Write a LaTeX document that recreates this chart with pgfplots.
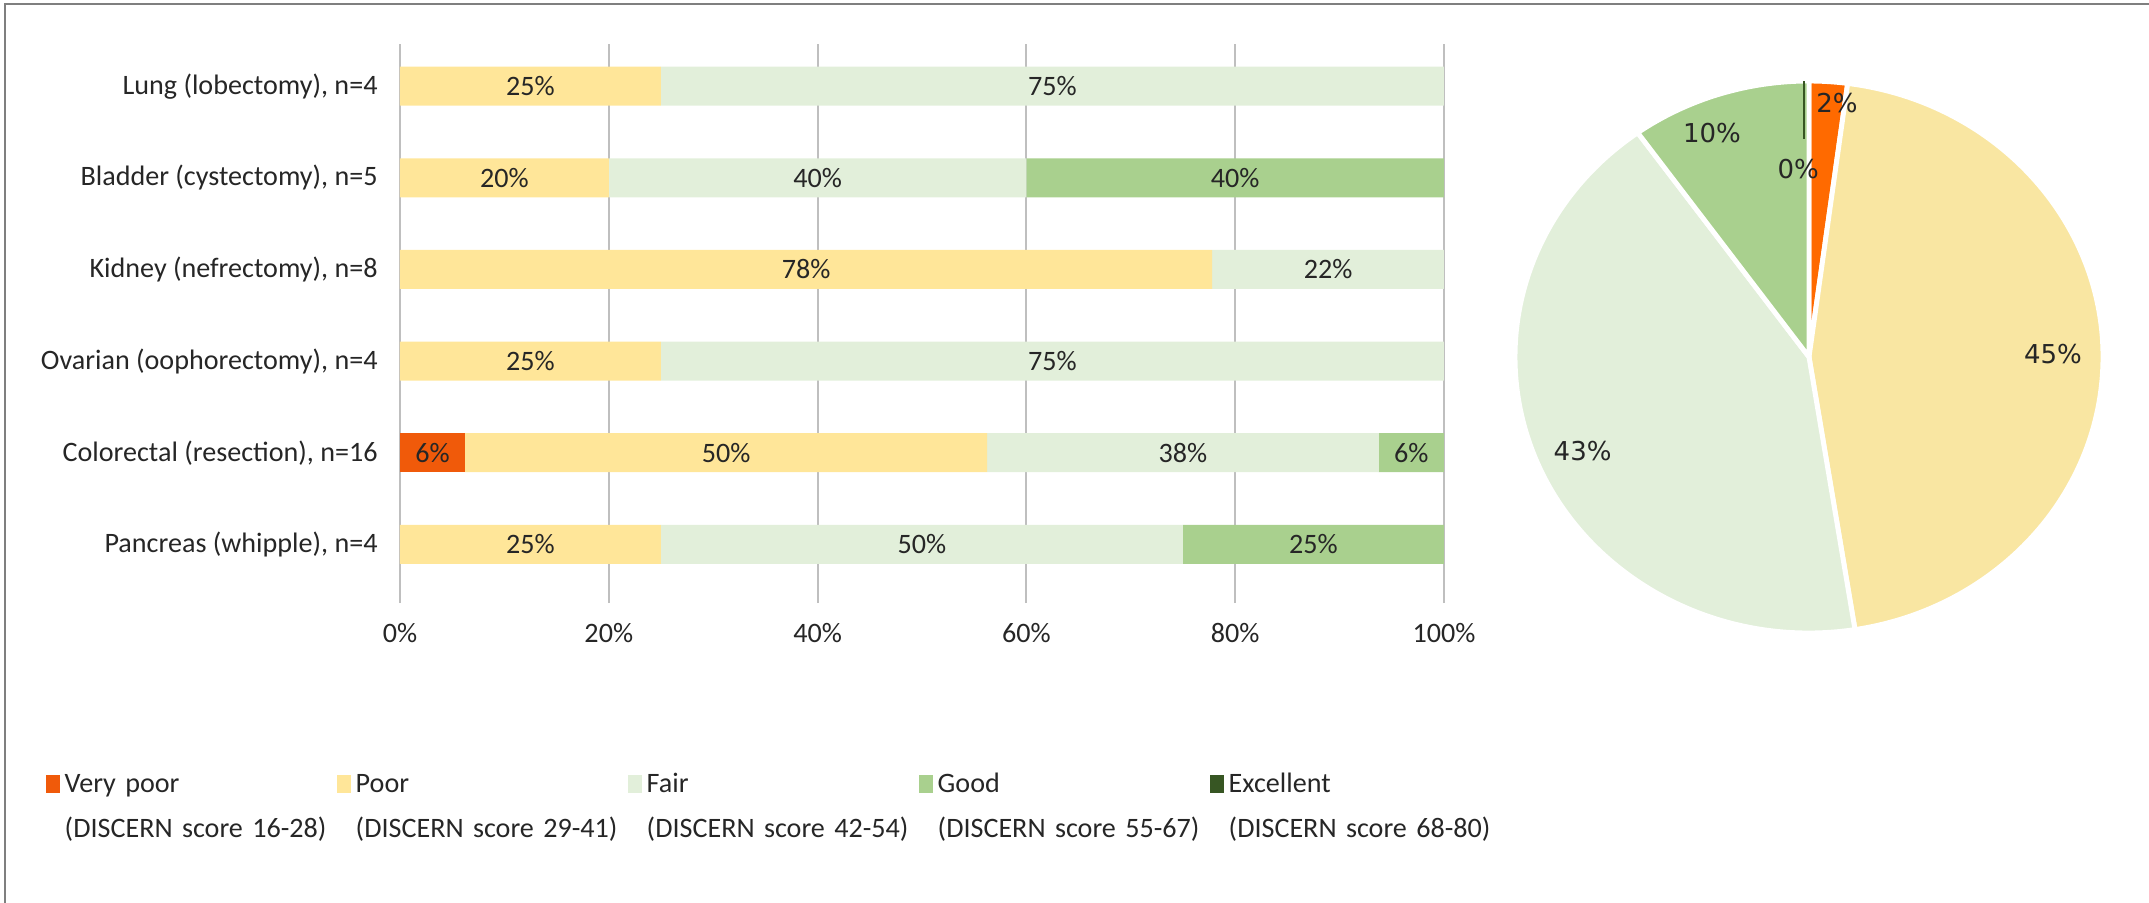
\documentclass[border=0pt]{standalone}
\usepackage{fontspec}
\setmainfont{Carlito}
\newfontfamily\piefont{DejaVu Sans}
\usepackage{pgfplots}
\pgfplotsset{compat=1.18}
\usepackage{pgfplotstable}

\definecolor{colVP}{HTML}{F05A0A}
\definecolor{colVPpie}{HTML}{FF6A00}
\definecolor{colP}{HTML}{FFE699}
\definecolor{colPpie}{HTML}{F9E6A2}
\definecolor{colF}{HTML}{E2EFDA}
\definecolor{colG}{HTML}{A9D08E}
\definecolor{colE}{HTML}{375623}
\definecolor{gridc}{HTML}{BFBFBF}
\definecolor{txt}{HTML}{262626}
\definecolor{framec}{HTML}{7F7F7F}

% share of each rating per procedure (%)
\pgfplotstableread{
pos VP P F G
0 0 25 50 25
1 6.25 50 37.5 6.25
2 0 25 75 0
3 0 77.8 22.2 0
4 0 20 40 40
5 0 25 75 0
}\bardata

% pie shares (%), clockwise from 12 o'clock: very poor, poor, fair, good, excellent
\def\pieVP{2.1}\def\pieP{45.4}\def\pieF{42.6}\def\pieG{9.9}\def\pieE{0}

\begin{document}
\begin{tikzpicture}
\useasboundingbox (0,0) rectangle (21.49,9.03);
\draw[framec, line width=0.6pt] (0.05,0) -- (0.05,8.99) -- (21.49,8.99);

\begin{axis}[
  at={(4cm,3cm)}, anchor=south west,
  scale only axis, width=10.44cm, height=5.59cm,
  xbar stacked, bar width=0.39cm,
  xmin=0, xmax=100, ymin=-0.64, ymax=5.46,
  xtick={0,20,40,60,80,100},
  xticklabel={\pgfmathprintnumber{\tick}\%},
  ytick={0,1,2,3,4,5},
  yticklabels={{Pancreas (whipple), n=4},{Colorectal (resection), n=16},{Ovarian (oophorectomy), n=4},{Kidney (nefrectomy), n=8},{Bladder (cystectomy), n=5},{Lung (lobectomy), n=4}},
  /pgf/number format/assume math mode=true,
  axis line style={draw=none},
  major tick length=0pt,
  xmajorgrids, grid style={draw=gridc, line width=0.6pt},
  tick label style={font=\fontsize{8}{9.6}\selectfont, text=txt},
  xticklabel style={yshift=-0.08cm},
  yticklabel style={xshift=-0.1cm},
  visualization depends on=rawx \as \rawx,
  nodes near coords={\ifdim\rawx pt>0.5pt\pgfmathprintnumber[fixed,precision=0]{\rawx}\%\fi},
  every node near coord/.append style={font=\fontsize{8}{9.6}\selectfont, text=txt, anchor=center},
  legend columns=5,
  legend image code/.code={\path[#1] (0cm,-0.005cm) rectangle (0.14cm,0.175cm);},
  legend style={at={(axis description cs:-0.3400,-0.3030)}, anchor=north west, draw=none, fill=none, inner sep=0pt,
    cells={anchor=base west},
    nodes={inner sep=0pt, text width=2.72cm, align=left, font=\fontsize{8}{12.8}\selectfont, text=txt},
    /tikz/every odd column/.append style={column sep=0.05cm},
  },
]
\addplot[fill=colVP, draw=none] table[x=VP, y=pos] {\bardata};
\addlegendentry{Very poor\\(DISCERN score 16-28)}
\addplot[fill=colP, draw=none] table[x=P, y=pos] {\bardata};
\addlegendentry{Poor\\(DISCERN score 29-41)}
\addplot[fill=colF, draw=none] table[x=F, y=pos] {\bardata};
\addlegendentry{Fair\\(DISCERN score 42-54)}
\addplot[fill=colG, draw=none] table[x=G, y=pos] {\bardata};
\addlegendentry{Good\\(DISCERN score 55-67)}
\addlegendimage{fill=colE, draw=none}
\addlegendentry{Excellent\\(DISCERN score 68-80)}
\end{axis}

\pgfmathsetmacro\aA{90}
\pgfmathsetmacro\aB{90-3.6*\pieVP}
\pgfmathsetmacro\aC{\aB-3.6*\pieP}
\pgfmathsetmacro\aD{\aC-3.6*\pieF}
\pgfmathsetmacro\aE{\aD-3.6*\pieG}
\pgfmathsetmacro\aF{\aE-3.6*\pieE}

\begin{axis}[at={(18.09cm,5.46cm)}, anchor=origin, x=2.94cm, y=2.76cm,
  xmin=-1.1, xmax=1.1, ymin=-1.1, ymax=1.1, hide axis, clip=false]
\filldraw[fill=colVPpie, draw=white, line width=1.4pt] (axis cs:0,0) -- (axis cs:{cos(\aA)},{sin(\aA)}) arc[start angle=\aA, end angle=\aB, x radius=2.94cm, y radius=2.76cm] -- cycle;
\filldraw[fill=colPpie, draw=white, line width=1.4pt] (axis cs:0,0) -- (axis cs:{cos(\aB)},{sin(\aB)}) arc[start angle=\aB, end angle=\aC, x radius=2.94cm, y radius=2.76cm] -- cycle;
\filldraw[fill=colF, draw=white, line width=1.4pt] (axis cs:0,0) -- (axis cs:{cos(\aC)},{sin(\aC)}) arc[start angle=\aC, end angle=\aD, x radius=2.94cm, y radius=2.76cm] -- cycle;
\filldraw[fill=colG, draw=white, line width=1.4pt] (axis cs:0,0) -- (axis cs:{cos(\aD)},{sin(\aD)}) arc[start angle=\aD, end angle=\aE, x radius=2.94cm, y radius=2.76cm] -- cycle;
\draw[colE, line width=0.7pt] (axis cs:{-0.017+0.79*cos(\aF)},{0.79*sin(\aF)}) -- (axis cs:{-0.017+cos(\aF)},{sin(\aF)});
\begin{scope}[every node/.style={font=\piefont\fontsize{7.4}{8}\selectfont, text=txt}]
\node at (axis cs:0.095,0.92) {2\%};
\node at (axis cs:0.83,0.01) {45\%};
\node at (axis cs:-0.77,-0.34) {43\%};
\node at (axis cs:-0.33,0.81) {10\%};
\node at (axis cs:-0.037,0.68) {0\%};
\end{scope}
\end{axis}
\end{tikzpicture}
\end{document}
